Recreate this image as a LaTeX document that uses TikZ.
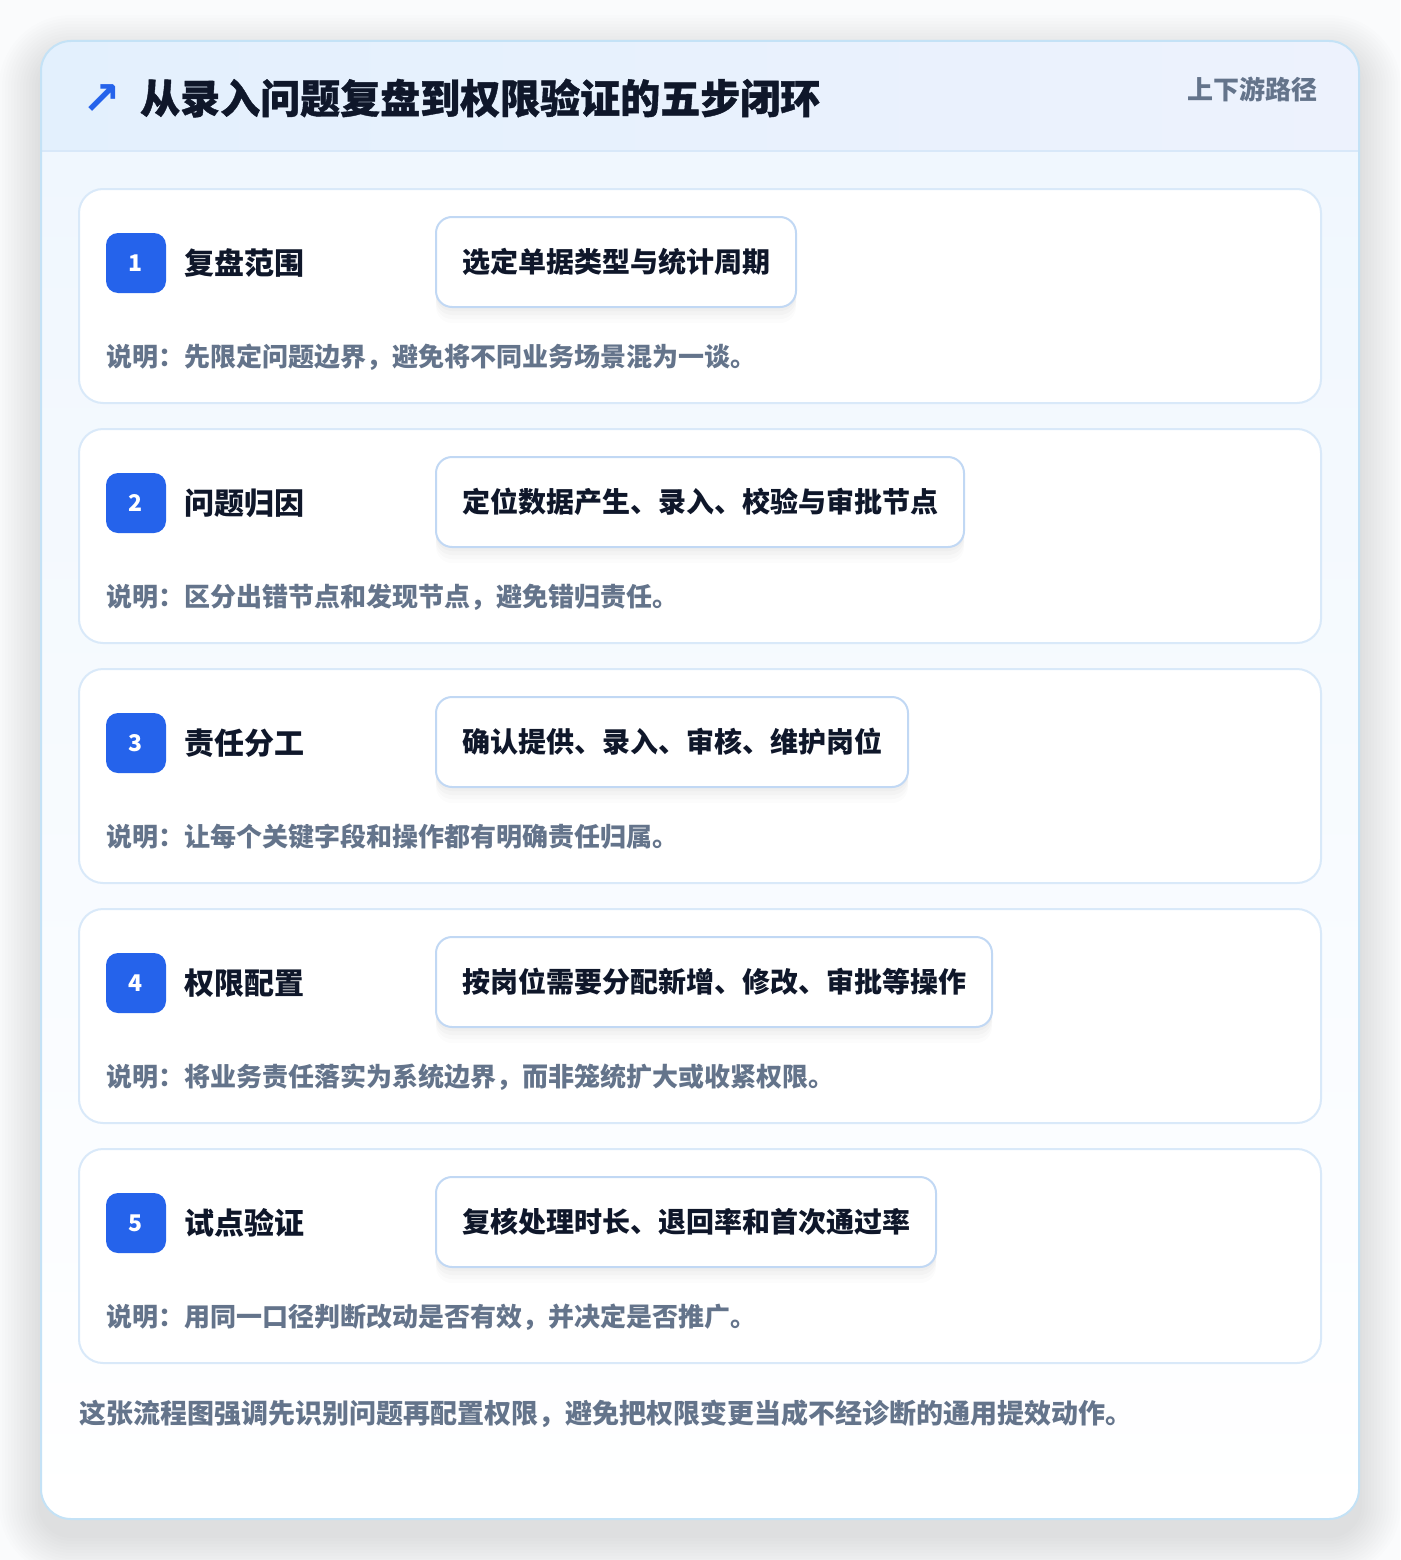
\documentclass[tikz,border=0pt]{standalone}
\usepackage{fontspec}
\setmainfont{Noto Sans CJK SC}
\newfontfamily\heavyfont{Noto Sans CJK SC}[BoldFeatures={FakeBold=1}]
\newfontfamily\symfont{DejaVu Sans}
\definecolor{pagebg}{HTML}{FAFBFC}
\definecolor{frameline}{HTML}{C4E2F6}
\definecolor{headA}{HTML}{E3F0FD}
\definecolor{headB}{HTML}{EDF2FD}
\definecolor{headline}{HTML}{D8E8F9}
\definecolor{bodyA}{HTML}{F0F7FE}
\definecolor{cardline}{HTML}{D9E9F9}
\definecolor{actline}{HTML}{C1D8F4}
\definecolor{numblue}{HTML}{2563EB}
\definecolor{inkdark}{HTML}{0F172A}
\definecolor{inkgray}{HTML}{64748B}
\begin{document}
\begin{tikzpicture}
[x=1pt,y=-1pt,
  cardbox/.style={draw=cardline,line width=2pt,fill=white,rounded corners=24pt,
    minimum width=1242pt,minimum height=214pt,inner sep=0pt},
  numbox/.style={fill=numblue,rounded corners=12pt,minimum size=60pt,inner sep=0pt,
    text=white,font=\fontsize{23}{26}\selectfont\bfseries},
  stepname/.style={anchor=west,inner sep=0pt,text=inkdark,
    font=\fontsize{30}{36}\selectfont\bfseries},
  actbox/.style={anchor=west,draw=actline,line width=2pt,fill=white,rounded corners=16pt,
    minimum height=90pt,inner xsep=26pt,text=inkdark,
    font=\fontsize{28}{34}\selectfont\bfseries,
    preaction={fill=black,opacity=0.018,transform canvas={yshift=-4pt}},
    preaction={fill=black,opacity=0.018,transform canvas={yshift=-8pt}},
    preaction={fill=black,opacity=0.015,transform canvas={yshift=-12pt}},
    preaction={fill=black,opacity=0.012,transform canvas={yshift=-16pt}}},
  notetext/.style={anchor=west,inner sep=0pt,text=inkgray,
    font=\fontsize{26}{30}\selectfont\bfseries}]
\useasboundingbox[fill=pagebg] (0,0) rectangle (1400,1560);
% outer frame with soft shadow
\foreach \e in {3,6,...,42}
  \fill[black,opacity=0.007,rounded corners={30pt+\e pt}]
    (41-\e,57-\e) rectangle (1359+\e,1535+\e);
\fill[white,rounded corners=30pt] (41,41) rectangle (1359,1519);
\begin{scope}
\clip[rounded corners=30pt] (41,41) rectangle (1359,1519);
\shade[left color=headA,right color=headB] (41,41) rectangle (1359,151);
\shade[top color=bodyA,bottom color=white] (41,151) rectangle (1359,1519);
\draw[headline,line width=2pt] (41,151) -- (1359,151);
\end{scope}
\draw[frameline,line width=2pt,rounded corners=30pt] (41,41) rectangle (1359,1519);
% header
\node (arrow) at (102,100) [inner sep=0pt,text=numblue,font=\symfont\bfseries\fontsize{46}{50}\selectfont] {↗};
\node (title) at (140,98) [anchor=west,inner sep=0pt,text=inkdark,
  font=\heavyfont\fontsize{40}{46}\selectfont\bfseries] {从录入问题复盘到权限验证的五步闭环};
\node (route) at (1318,89) [anchor=east,inner sep=0pt,text=inkgray,
  font=\fontsize{26}{30}\selectfont\bfseries] {上下游路径};
% step 1
\node (card1) at (700,296) [cardbox] {};
\node (num1) at (136,263) [numbox] {1};
\node (name1) at (184,263) [stepname] {复盘范围};
\node (act1) at (435,262) [actbox] {选定单据类型与统计周期};
\node (note1) at (106,357) [notetext] {说明：先限定问题边界，避免将不同业务场景混为一谈。};
% step 2
\node (card2) at (700,536) [cardbox] {};
\node (num2) at (136,503) [numbox] {2};
\node (name2) at (184,503) [stepname] {问题归因};
\node (act2) at (435,502) [actbox] {定位数据产生、录入、校验与审批节点};
\node (note2) at (106,597) [notetext] {说明：区分出错节点和发现节点，避免错归责任。};
% step 3
\node (card3) at (700,776) [cardbox] {};
\node (num3) at (136,743) [numbox] {3};
\node (name3) at (184,743) [stepname] {责任分工};
\node (act3) at (435,742) [actbox] {确认提供、录入、审核、维护岗位};
\node (note3) at (106,837) [notetext] {说明：让每个关键字段和操作都有明确责任归属。};
% step 4
\node (card4) at (700,1016) [cardbox] {};
\node (num4) at (136,983) [numbox] {4};
\node (name4) at (184,983) [stepname] {权限配置};
\node (act4) at (435,982) [actbox] {按岗位需要分配新增、修改、审批等操作};
\node (note4) at (106,1077) [notetext] {说明：将业务责任落实为系统边界，而非笼统扩大或收紧权限。};
% step 5
\node (card5) at (700,1256) [cardbox] {};
\node (num5) at (136,1223) [numbox] {5};
\node (name5) at (184,1223) [stepname] {试点验证};
\node (act5) at (435,1222) [actbox] {复核处理时长、退回率和首次通过率};
\node (note5) at (106,1317) [notetext] {说明：用同一口径判断改动是否有效，并决定是否推广。};
% summary
\node (summary) at (79,1414) [anchor=west,inner sep=0pt,text=inkgray,
  font=\fontsize{27}{32}\selectfont\bfseries] {这张流程图强调先识别问题再配置权限，避免把权限变更当成不经诊断的通用提效动作。};
\end{tikzpicture}
\end{document}
